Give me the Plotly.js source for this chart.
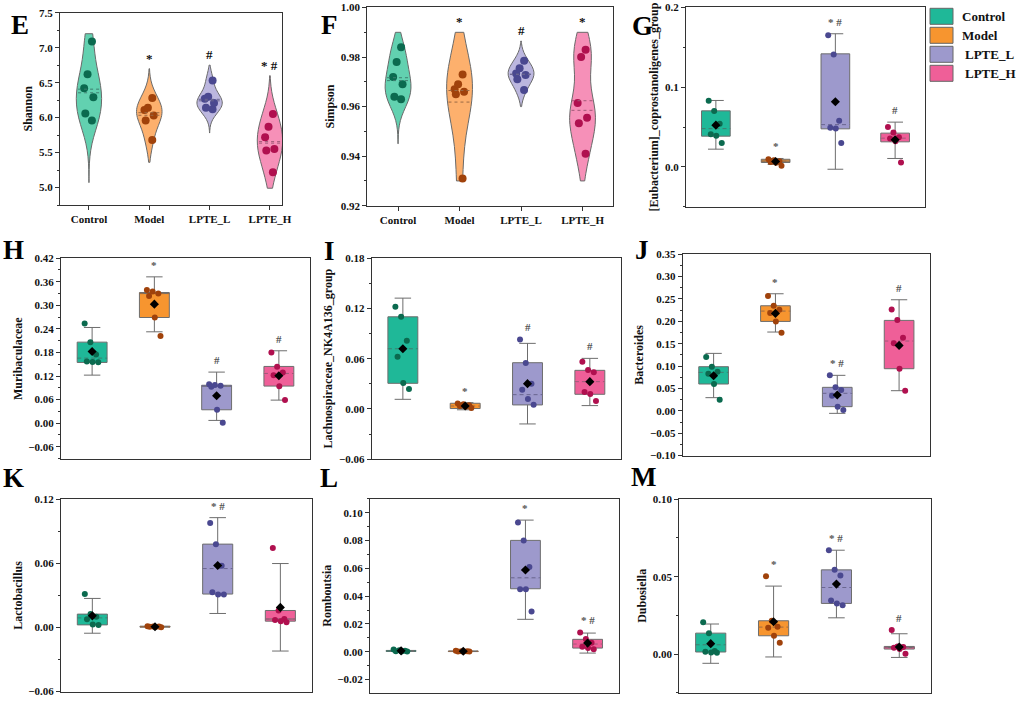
<!DOCTYPE html>
<html><head><meta charset="utf-8">
<script src="https://cdn.plot.ly/plotly-3.0.1.min.js"></script>
<style>html,body{margin:0;padding:0;background:#fff}#chart{width:1020px;height:703px}</style>
</head><body><div id="chart"></div>
<script>
// ---------------- DATA ----------------
const groups = ["Control", "Model", "LPTE_L", "LPTE_H"];

// E: Shannon (violin)
const shannonControl = [7.09, 6.62, 6.42, 6.29, 6.06, 5.96];
const shannonModel   = [6.28, 6.14, 6.11, 6.03, 5.96, 5.68];
const shannonLPTE_L  = [6.53, 6.30, 6.27, 6.21, 6.14, 6.12];
const shannonLPTE_H  = [6.05, 5.87, 5.72, 5.55, 5.53, 5.22];
const shannonSpan    = [[5.07, 7.20], [5.36, 6.70], [5.78, 6.75], [4.99, 6.60]];
const shannonSig     = ["", "*", "#", "* #"];

// F: Simpson (violin)
const simpsonControl = [0.984, 0.978, 0.972, 0.969, 0.964, 0.963];
const simpsonModel   = [0.973, 0.969, 0.967, 0.966, 0.965, 0.931];
const simpsonLPTE_L  = [0.9785, 0.9755, 0.9734, 0.9728, 0.9711, 0.9667];
const simpsonLPTE_H  = [0.983, 0.980, 0.9615, 0.9555, 0.9533, 0.941];
const simpsonSpan    = [[0.945, 0.990], [0.930, 0.990], [0.960, 0.9865], [0.930, 0.990]];
const simpsonSig     = ["", "*", "#", "*"];

// G: [Eubacterium]_coprostanoligenes_group
const eubacControl = [0.083, 0.070, 0.054, 0.041, 0.039, 0.030];
const eubacModel   = [0.0096, 0.0084, 0.0071, 0.0062, 0.0050, 0.0013];
const eubacLPTE_L  = [0.165, 0.141, 0.058, 0.049, 0.048, 0.030];
const eubacLPTE_H  = [0.050, 0.043, 0.037, 0.0356, 0.032, 0.0054];
const eubacQ1     = [0.0385, 0.0055, 0.0477, 0.0314];
const eubacMedian = [0.0480, 0.0072, 0.0530, 0.0360];
const eubacQ3     = [0.0703, 0.0095, 0.1418, 0.0423];
const eubacLower  = [0.0222, 0.0030, -0.0030, 0.0105];
const eubacUpper  = [0.0833, 0.0105, 0.1670, 0.0561];
const eubacMean   = [0.0523, 0.0067, 0.0816, 0.0340];
const eubacSig    = ["", "*", "* #", "#"];

// H: Muribaculaceae
const muriControl = [0.254, 0.206, 0.175, 0.157, 0.156, 0.155];
const muriModel   = [0.339, 0.335, 0.330, 0.324, 0.269, 0.222];
const muriLPTE_L  = [0.099, 0.097, 0.095, 0.093, 0.034, 0.001];
const muriLPTE_H  = [0.180, 0.1435, 0.129, 0.122, 0.094, 0.059];
const muriQ1     = [0.1546, 0.269, 0.0341, 0.0944];
const muriMedian = [0.1656, 0.330, 0.095, 0.1266];
const muriQ3     = [0.2063, 0.3327, 0.0965, 0.1444];
const muriLower  = [0.1223, 0.2326, 0.007, 0.0587];
const muriUpper  = [0.2436, 0.3725, 0.130, 0.1843];
const muriMean   = [0.1825, 0.303, 0.0698, 0.1206];
const muriSig    = ["", "*", "#", "#"];

// I: Lachnospiraceae_NK4A136_group
const lachControl = [0.122, 0.110, 0.0815, 0.0624, 0.031, 0.0238];
const lachModel   = [0.0065, 0.0055, 0.0045, 0.0035, 0.0025, 0.0012];
const lachLPTE_L  = [0.083, 0.055, 0.030, 0.023, 0.012, 0.005];
const lachLPTE_H  = [0.0564, 0.0465, 0.0437, 0.0203, 0.0179, 0.0095];
const lachQ1     = [0.0306, 0.0005, 0.0048, 0.0175];
const lachMedian = [0.0719, 0.0035, 0.0171, 0.0326];
const lachQ3     = [0.110, 0.0068, 0.0552, 0.0461];
const lachLower  = [0.0115, -0.001, -0.0179, 0.004];
const lachUpper  = [0.1323, 0.0075, 0.0783, 0.0604];
const lachMean   = [0.0719, 0.0035, 0.0302, 0.0326];
const lachSig    = ["", "*", "#", "#"];

// J: Bacteroides
const bactControl = [0.120, 0.0986, 0.0874, 0.083, 0.060, 0.025];
const bactModel   = [0.2563, 0.2347, 0.2258, 0.2184, 0.1997, 0.1745];
const bactLPTE_L  = [0.0793, 0.0525, 0.0466, 0.0339, 0.0093, 0.0019];
const bactLPTE_H  = [0.2265, 0.2027, 0.1633, 0.1507, 0.0941, 0.045];
const bactQ1     = [0.0599, 0.1997, 0.0093, 0.0941];
const bactMedian = [0.0859, 0.2228, 0.0391, 0.1559];
const bactQ3     = [0.0986, 0.2347, 0.0525, 0.2020];
const bactLower  = [0.0294, 0.176, -0.0056, 0.045];
const bactUpper  = [0.1283, 0.2615, 0.0793, 0.2481];
const bactMean   = [0.0785, 0.2176, 0.0354, 0.1462];
const bactSig    = ["", "*", "* #", "#"];

// K: Lactobacillus
const lactoControl = [0.0314, 0.0126, 0.0101, 0.0079, 0.0028, 0.0025];
const lactoModel   = [0.0013, 0.0011, 0.0009, 0.0008, 0.0006, 0.0004];
const lactoLPTE_L  = [0.098, 0.078, 0.058, 0.033, 0.031, 0.031];
const lactoLPTE_H  = [0.0745, 0.016, 0.008, 0.007, 0.006, 0.005];
const lactoQ1     = [0.0025, 0.0004, 0.0314, 0.0060];
const lactoMedian = [0.0091, 0.0008, 0.0553, 0.0080];
const lactoQ3     = [0.0126, 0.0013, 0.0782, 0.0160];
const lactoLower  = [-0.0053, 0.0002, 0.0132, -0.022];
const lactoUpper  = [0.0273, 0.0015, 0.103, 0.060];
const lactoMean   = [0.011, 0.0008, 0.0581, 0.0189];
const lactoSig    = ["", "", "* #", ""];

// L: Romboutsia
const rombControl = [0.0015, 0.0010, 0.0006, 0.0004, 0.0002, 0.0001];
const rombModel   = [0.0006, 0.0004, 0.0003, 0.0002, 0.0001, 0.0001];
const rombLPTE_L  = [0.093, 0.080, 0.061, 0.045, 0.045, 0.029];
const rombLPTE_H  = [0.0139, 0.0091, 0.0065, 0.0036, 0.0026, 0.0017];
const rombQ1     = [0.0002, 0.0001, 0.0453, 0.0026];
const rombMedian = [0.0005, 0.0003, 0.0532, 0.0055];
const rombQ3     = [0.0009, 0.0005, 0.0801, 0.0089];
const rombLower  = [0.0001, 0.0001, 0.0233, -0.001];
const rombUpper  = [0.0015, 0.0006, 0.0947, 0.0134];
const rombMean   = [0.0006, 0.0003, 0.0588, 0.0062];
const rombSig    = ["", "", "*", "* #"];

// M: Dubosiella
const duboControl = [0.0206, 0.0135, 0.002, 0.0015, 0.001, 0.0008];
const duboModel   = [0.0503, 0.0215, 0.0176, 0.017, 0.0118, 0.0073];
const duboLPTE_L  = [0.0671, 0.0544, 0.0508, 0.0346, 0.0327, 0.0316];
const duboLPTE_H  = [0.0155, 0.0049, 0.0045, 0.0041, 0.0032, 0.0002];
const duboQ1     = [0.0013, 0.0118, 0.0327, 0.0032];
const duboMedian = [0.0060, 0.0174, 0.0430, 0.0042];
const duboQ3     = [0.0135, 0.0215, 0.0544, 0.0049];
const duboLower  = [-0.006, -0.0019, 0.0234, -0.0022];
const duboUpper  = [0.0194, 0.0439, 0.0671, 0.0131];
const duboMean   = [0.0067, 0.0209, 0.0452, 0.0045];
const duboSig    = ["", "*", "* #", "#"];

// ---------------- STYLE ----------------
const W = 1020, H = 703;
const FONT = '"Liberation Serif","Times New Roman",serif';
const boxFill    = ['#1fb898', '#f7952f', '#9d99cc', '#ef5f98'];
const violinFill = ['#62d1b0', '#fdb06d', '#bcb7df', '#f690b8'];
const ptColor    = ['#0b6a4f', '#a0420b', '#4a4890', '#b0104f'];
const medColor   = ['#3f7f70', '#9a6a45', '#6a6690', '#a05a78'];

const panels = [
  {letter:'E', kind:'violin', title:'Shannon', samples:[shannonControl, shannonModel, shannonLPTE_L, shannonLPTE_H],
   span: shannonSpan, bw:[0.28, 0.18, 0.12, 0.24], sig: shannonSig,
   frame:[60, 282, 12.7, 205], xr:[-0.48, 3.2], yr:[4.75, 7.5005], tick0:5, dtick:0.5, minor:0.25, fmt:'.1f', L:[20, 25]},
  {letter:'F', kind:'violin', title:'Simpson', samples:[simpsonControl, simpsonModel, simpsonLPTE_L, simpsonLPTE_H],
   span: simpsonSpan, bw:[0.0058, 0.0145, 0.0035, 0.0088], sig: simpsonSig,
   frame:[367.3, 613.3, 7.3, 205.7], xr:[-0.5, 3.5], yr:[0.92, 1.0001], tick0:0.92, dtick:0.02, minor:0.01, fmt:'.2f', L:[329, 25]},
  {letter:'G', kind:'box', title:'[Eubacterium]_coprostanoligenes_group', samples:[eubacControl, eubacModel, eubacLPTE_L, eubacLPTE_H],
   q1:eubacQ1, med:eubacMedian, q3:eubacQ3, lo:eubacLower, hi:eubacUpper, mean:eubacMean, sig:eubacSig,
   frame:[686, 925, 7.3, 206.7], xr:[-0.5, 3.5], yr:[-0.05, 0.2002], tick0:0, dtick:0.1, minor:0.05, fmt:'.1f', L:[642, 26]},
  {letter:'H', kind:'box', title:'Muribaculaceae', samples:[muriControl, muriModel, muriLPTE_L, muriLPTE_H],
   q1:muriQ1, med:muriMedian, q3:muriQ3, lo:muriLower, hi:muriUpper, mean:muriMean, sig:muriSig,
   frame:[61, 310, 258, 459.3], xr:[-0.5, 3.5], yr:[-0.092, 0.4205], tick0:0, dtick:0.06, minor:0.03, fmt:'.2f', L:[13, 250]},
  {letter:'I', kind:'box', title:'Lachnospiraceae_NK4A136_group', samples:[lachControl, lachModel, lachLPTE_L, lachLPTE_H],
   q1:lachQ1, med:lachMedian, q3:lachQ3, lo:lachLower, hi:lachUpper, mean:lachMean, sig:lachSig,
   frame:[371.7, 621, 258, 459.3], xr:[-0.5, 3.5], yr:[-0.0601, 0.1802], tick0:0, dtick:0.06, minor:0.03, fmt:'.2f', L:[329, 251]},
  {letter:'J', kind:'box', title:'Bacteroides', samples:[bactControl, bactModel, bactLPTE_L, bactLPTE_H],
   q1:bactQ1, med:bactMedian, q3:bactQ3, lo:bactLower, hi:bactUpper, mean:bactMean, sig:bactSig,
   frame:[682.7, 930, 254, 455.7], xr:[-0.5, 3.5], yr:[-0.1002, 0.3503], tick0:0, dtick:0.05, minor:0.025, fmt:'.2f', L:[642, 250]},
  {letter:'K', kind:'box', title:'Lactobacillus', samples:[lactoControl, lactoModel, lactoLPTE_L, lactoLPTE_H],
   q1:lactoQ1, med:lactoMedian, q3:lactoQ3, lo:lactoLower, hi:lactoUpper, mean:lactoMean, sig:lactoSig,
   frame:[61, 311.7, 499.3, 691.7], xr:[-0.5, 3.5], yr:[-0.0601, 0.1202], tick0:0, dtick:0.06, minor:0.03, fmt:'.2f', L:[13, 478]},
  {letter:'L', kind:'box', title:'Romboutsia', samples:[rombControl, rombModel, rombLPTE_L, rombLPTE_H],
   q1:rombQ1, med:rombMedian, q3:rombQ3, lo:rombLower, hi:rombUpper, mean:rombMean, sig:rombSig,
   frame:[370, 618.7, 498.7, 692.7], xr:[-0.5, 3.5], yr:[-0.0295, 0.1101], tick0:0, dtick:0.02, minor:0.01, fmt:'.2f', L:[329, 478]},
  {letter:'M', kind:'box', title:'Dubosiella', samples:[duboControl, duboModel, duboLPTE_L, duboLPTE_H],
   q1:duboQ1, med:duboMedian, q3:duboQ3, lo:duboLower, hi:duboUpper, mean:duboMean, sig:duboSig,
   frame:[679.3, 930.7, 499, 692.7], xr:[-0.5, 3.5], yr:[-0.025, 0.1002], tick0:0, dtick:0.05, minor:0.025, fmt:'.2f', L:[643, 477]}
];

// ---------------- BUILD ----------------
const traces = [];
const layout = {
  width: W, height: H, margin: {l:0, r:0, t:0, b:0},
  paper_bgcolor: '#fff', plot_bgcolor: '#fff',
  showlegend: false, boxmode: 'overlay', violinmode: 'overlay',
  font: {family: FONT, color: '#111'},
  annotations: [], shapes: []
};
const BOXW = 0.48;
const jit = k => (((k * 0.381966) % 1) - 0.5) * 0.24;
const meanOf = a => a.reduce((s, v) => s + v, 0) / a.length;
const medianOf = a => { const s = [...a].sort((p, q) => p - q); const n = s.length; return n % 2 ? s[(n-1)/2] : (s[n/2-1] + s[n/2]) / 2; };

panels.forEach((p, idx) => {
  const n = idx + 1;
  const xa = 'x' + (n === 1 ? '' : n), ya = 'y' + (n === 1 ? '' : n);
  const xk = 'xaxis' + (n === 1 ? '' : n), yk = 'yaxis' + (n === 1 ? '' : n);
  const [fl, fr, ft, fb] = p.frame;
  const isV = p.kind === 'violin';
  layout[xk] = {
    domain: [fl / W, fr / W], range: p.xr, anchor: ya, fixedrange: true,
    showline: true, mirror: true, linecolor: '#333', linewidth: 1, showgrid: false, zeroline: false,
    tickmode: 'array', tickvals: groups.map((g, i) => i), ticktext: groups,
    showticklabels: isV, ticks: isV ? 'outside' : '', ticklen: 4, tickcolor: '#333',
    tickfont: {family: FONT, size: 11, weight: 700, color: '#111'}
  };
  layout[yk] = {
    domain: [1 - fb / H, 1 - ft / H], range: p.yr, anchor: xa, fixedrange: true,
    showline: true, mirror: true, linecolor: '#333', linewidth: 1, showgrid: false, zeroline: false,
    tick0: p.tick0, dtick: p.dtick, tickformat: p.fmt, ticks: 'outside', ticklen: 4, tickcolor: '#333',
    minor: {dtick: p.minor, ticks: 'outside', ticklen: 2, tickcolor: '#333', showgrid: false},
    tickfont: {family: FONT, size: 11, weight: 700, color: '#111'},
    title: {text: p.title, standoff: 3, font: {family: FONT, size: 12, weight: 700, color: '#111'}}
  };

  groups.forEach((g, i) => {
    const ys = p.samples[i];
    let top;
    if (isV) {
      traces.push({
        type: 'violin', x0: i, y: ys, name: g, xaxis: xa, yaxis: ya,
        spanmode: 'manual', span: p.span[i], bandwidth: p.bw[i],
        scalemode: 'width', width: 0.42, side: 'both',
        fillcolor: violinFill[i], line: {color: '#6a6a6a', width: 1},
        points: 'all', pointpos: 0, jitter: 0.45,
        marker: {color: ptColor[i], size: 8, line: {width: 0}},
        box: {visible: false}, meanline: {visible: false}, hoverinfo: 'skip'
      });
      [meanOf(ys), medianOf(ys)].forEach(v => traces.push({
        type: 'scatter', mode: 'lines', x: [i - 0.18, i + 0.18], y: [v, v], xaxis: xa, yaxis: ya,
        line: {color: medColor[i], width: 1, dash: 'dot'}, hoverinfo: 'skip'
      }));
      top = p.span[i][1];
      if (p.sig[i]) layout.annotations.push({
        x: i, y: top, xref: xa, yref: ya, text: p.sig[i], showarrow: false, yanchor: 'bottom', yshift: 1,
        font: {family: FONT, size: 13, weight: 700, color: '#111'}
      });
    } else {
      traces.push({
        type: 'box', x: [i], q1: [p.q1[i]], median: [p.med[i]], q3: [p.q3[i]],
        lowerfence: [p.lo[i]], upperfence: [p.hi[i]], name: g, xaxis: xa, yaxis: ya,
        width: BOXW, whiskerwidth: 0.55, fillcolor: boxFill[i],
        line: {color: '#6d6d6d', width: 1}, boxpoints: false, hoverinfo: 'skip'
      });
      const span = p.yr[1] - p.yr[0];
      if (p.q3[i] - p.med[i] > 0.012 * span && p.med[i] - p.q1[i] > 0.012 * span) {
        traces.push({
          type: 'scatter', mode: 'lines', x: [i - BOXW / 2 + 0.006, i + BOXW / 2 - 0.006], y: [p.med[i], p.med[i]],
          xaxis: xa, yaxis: ya, line: {color: boxFill[i], width: 2.2}, hoverinfo: 'skip'
        });
      }
      traces.push({
        type: 'scatter', mode: 'lines', x: [i - BOXW / 2, i + BOXW / 2], y: [p.med[i], p.med[i]],
        xaxis: xa, yaxis: ya, line: {color: medColor[i], width: 1, dash: '4px,3px'}, hoverinfo: 'skip'
      });
      traces.push({
        type: 'scatter', mode: 'markers', x: ys.map((v, k) => i + jit(k)), y: ys,
        xaxis: xa, yaxis: ya, marker: {color: ptColor[i], size: 6}, hoverinfo: 'skip'
      });
      traces.push({
        type: 'scatter', mode: 'markers', x: [i], y: [p.mean[i]], xaxis: xa, yaxis: ya,
        marker: {color: '#000', size: 7, symbol: 'diamond'}, hoverinfo: 'skip'
      });
      top = Math.max(p.hi[i], ...ys);
      if (p.sig[i]) layout.annotations.push({
        x: i, y: top, xref: xa, yref: ya, text: p.sig[i], showarrow: false, yanchor: 'bottom', yshift: 4,
        font: {family: FONT, size: 11, weight: 700, color: '#555555'}
      });
    }
  });

  layout.annotations.push({
    x: p.L[0] / W, y: 1 - p.L[1] / H, xref: 'paper', yref: 'paper', text: p.letter, showarrow: false,
    xanchor: 'center', yanchor: 'middle', font: {family: FONT, size: 27, weight: 700, color: '#000'}
  });
});

// legend (manual, built from groups)
groups.forEach((g, i) => {
  const top = 8.3 + i * 19;
  layout.shapes.push({
    type: 'rect', xref: 'paper', yref: 'paper', x0: 930 / W, x1: 953 / W, y0: 1 - (top + 16) / H, y1: 1 - top / H,
    fillcolor: boxFill[i], line: {color: '#666', width: 1}
  });
  layout.annotations.push({
    x: (i < 2 ? 960 : 962.5) / W, y: 1 - (top + 8) / H, xref: 'paper', yref: 'paper', text: g, showarrow: false,
    xanchor: 'left', yanchor: 'middle', font: {family: FONT, size: 13, weight: 700, color: '#111'}
  });
});

Plotly.newPlot('chart', traces, layout, {staticPlot: true, displayModeBar: false});
</script>
</body></html>
